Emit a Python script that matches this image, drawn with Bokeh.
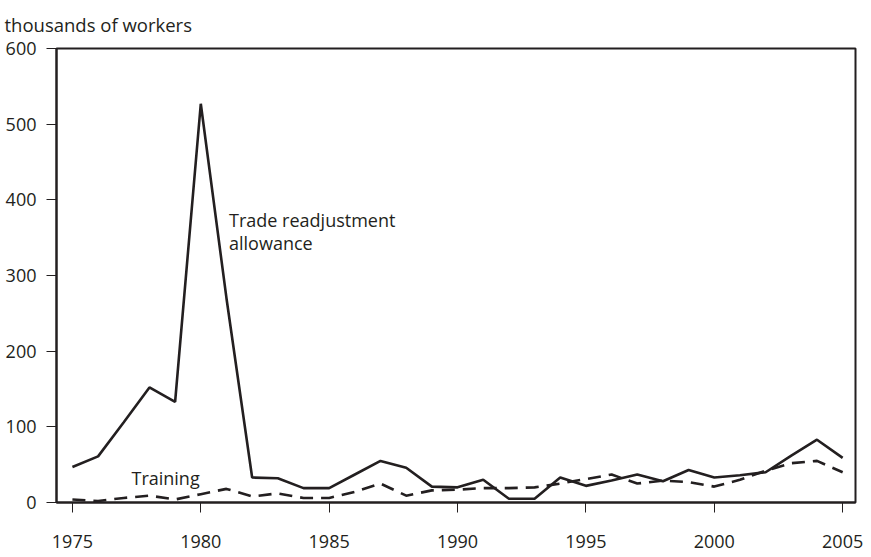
from bokeh.plotting import figure
from bokeh.models import ColumnDataSource, FixedTicker, Range1d
from bokeh.core.properties import value
from bokeh.embed import file_html
from bokeh.resources import INLINE

years = list(range(1975, 2006))
tra = [47, 61, 106, 152, 133, 527, 270, 33, 32, 19, 19, 37, 55, 46, 21, 20,
       30, 5, 5, 33, 22, 29, 37, 28, 43, 33, 36, 40, 62, 83, 59]
training = [4, 2, 6, 9, 4, 11, 18, 8, 12, 6, 6, 14, 25, 9, 16, 17,
            19, 19, 20, 25, 31, 37, 25, 29, 27, 21, 30, 42, 52, 55, 40]
x_ticks = [1975, 1980, 1985, 1990, 1995, 2000, 2005]
y_ticks = [0, 100, 200, 300, 400, 500, 600]

FONT = "Open Sans"

p = figure(width=866, height=555, output_backend="svg", toolbar_location=None,
           x_range=Range1d(1974.38, 2005.5), y_range=Range1d(0, 600),
           min_border_left=56, min_border_right=11, min_border_top=48,
           min_border_bottom=53)
p.title.text = "thousands of workers"
p.title.text_font = FONT
p.title.text_font_size = "18.5px"
p.title.text_font_style = "normal"
p.title.text_color = "#231f20"
p.title.offset = -52
p.title.standoff = 20
p.title.vertical_align = "top"

p.grid.visible = False
p.outline_line_color = "#231f20"
p.outline_line_width = 2
p.background_fill_color = "white"
p.border_fill_color = "white"

for ax in (p.xaxis[0], p.yaxis[0]):
    ax.axis_line_color = "#231f20"
    ax.axis_line_width = 2
    ax.major_tick_line_color = "#231f20"
    ax.major_tick_line_width = 1
    ax.major_tick_out = 10
    ax.major_tick_in = 0
    ax.minor_tick_line_color = None
    ax.major_label_text_font = FONT
    ax.major_label_text_font_size = "18px"
    ax.major_label_text_color = "#231f20"

p.xaxis.ticker = FixedTicker(ticks=x_ticks)
p.yaxis.ticker = FixedTicker(ticks=y_ticks)
p.xaxis.major_label_standoff = 22
p.yaxis.major_label_standoff = 10

src = ColumnDataSource(dict(year=years, tra=tra, training=training))
p.line("year", "tra", source=src, line_color="#231f20", line_width=2.6)
p.line("year", "training", source=src, line_color="#231f20", line_width=2.6,
       line_dash="13 8")

p.text(x=[1981.1, 1981.1], y=[374, 343], text=["Trade readjustment", "allowance"],
       text_font=value(FONT), text_font_size="18px", text_color="#231f20",
       text_baseline="alphabetic", text_align="left")
p.text(x=[1977.3], y=[32], text=["Training"],
       text_font=value(FONT), text_font_size="18px", text_color="#231f20",
       text_baseline="alphabetic", text_align="left")

open("out.html", "w").write(file_html(p, INLINE))
